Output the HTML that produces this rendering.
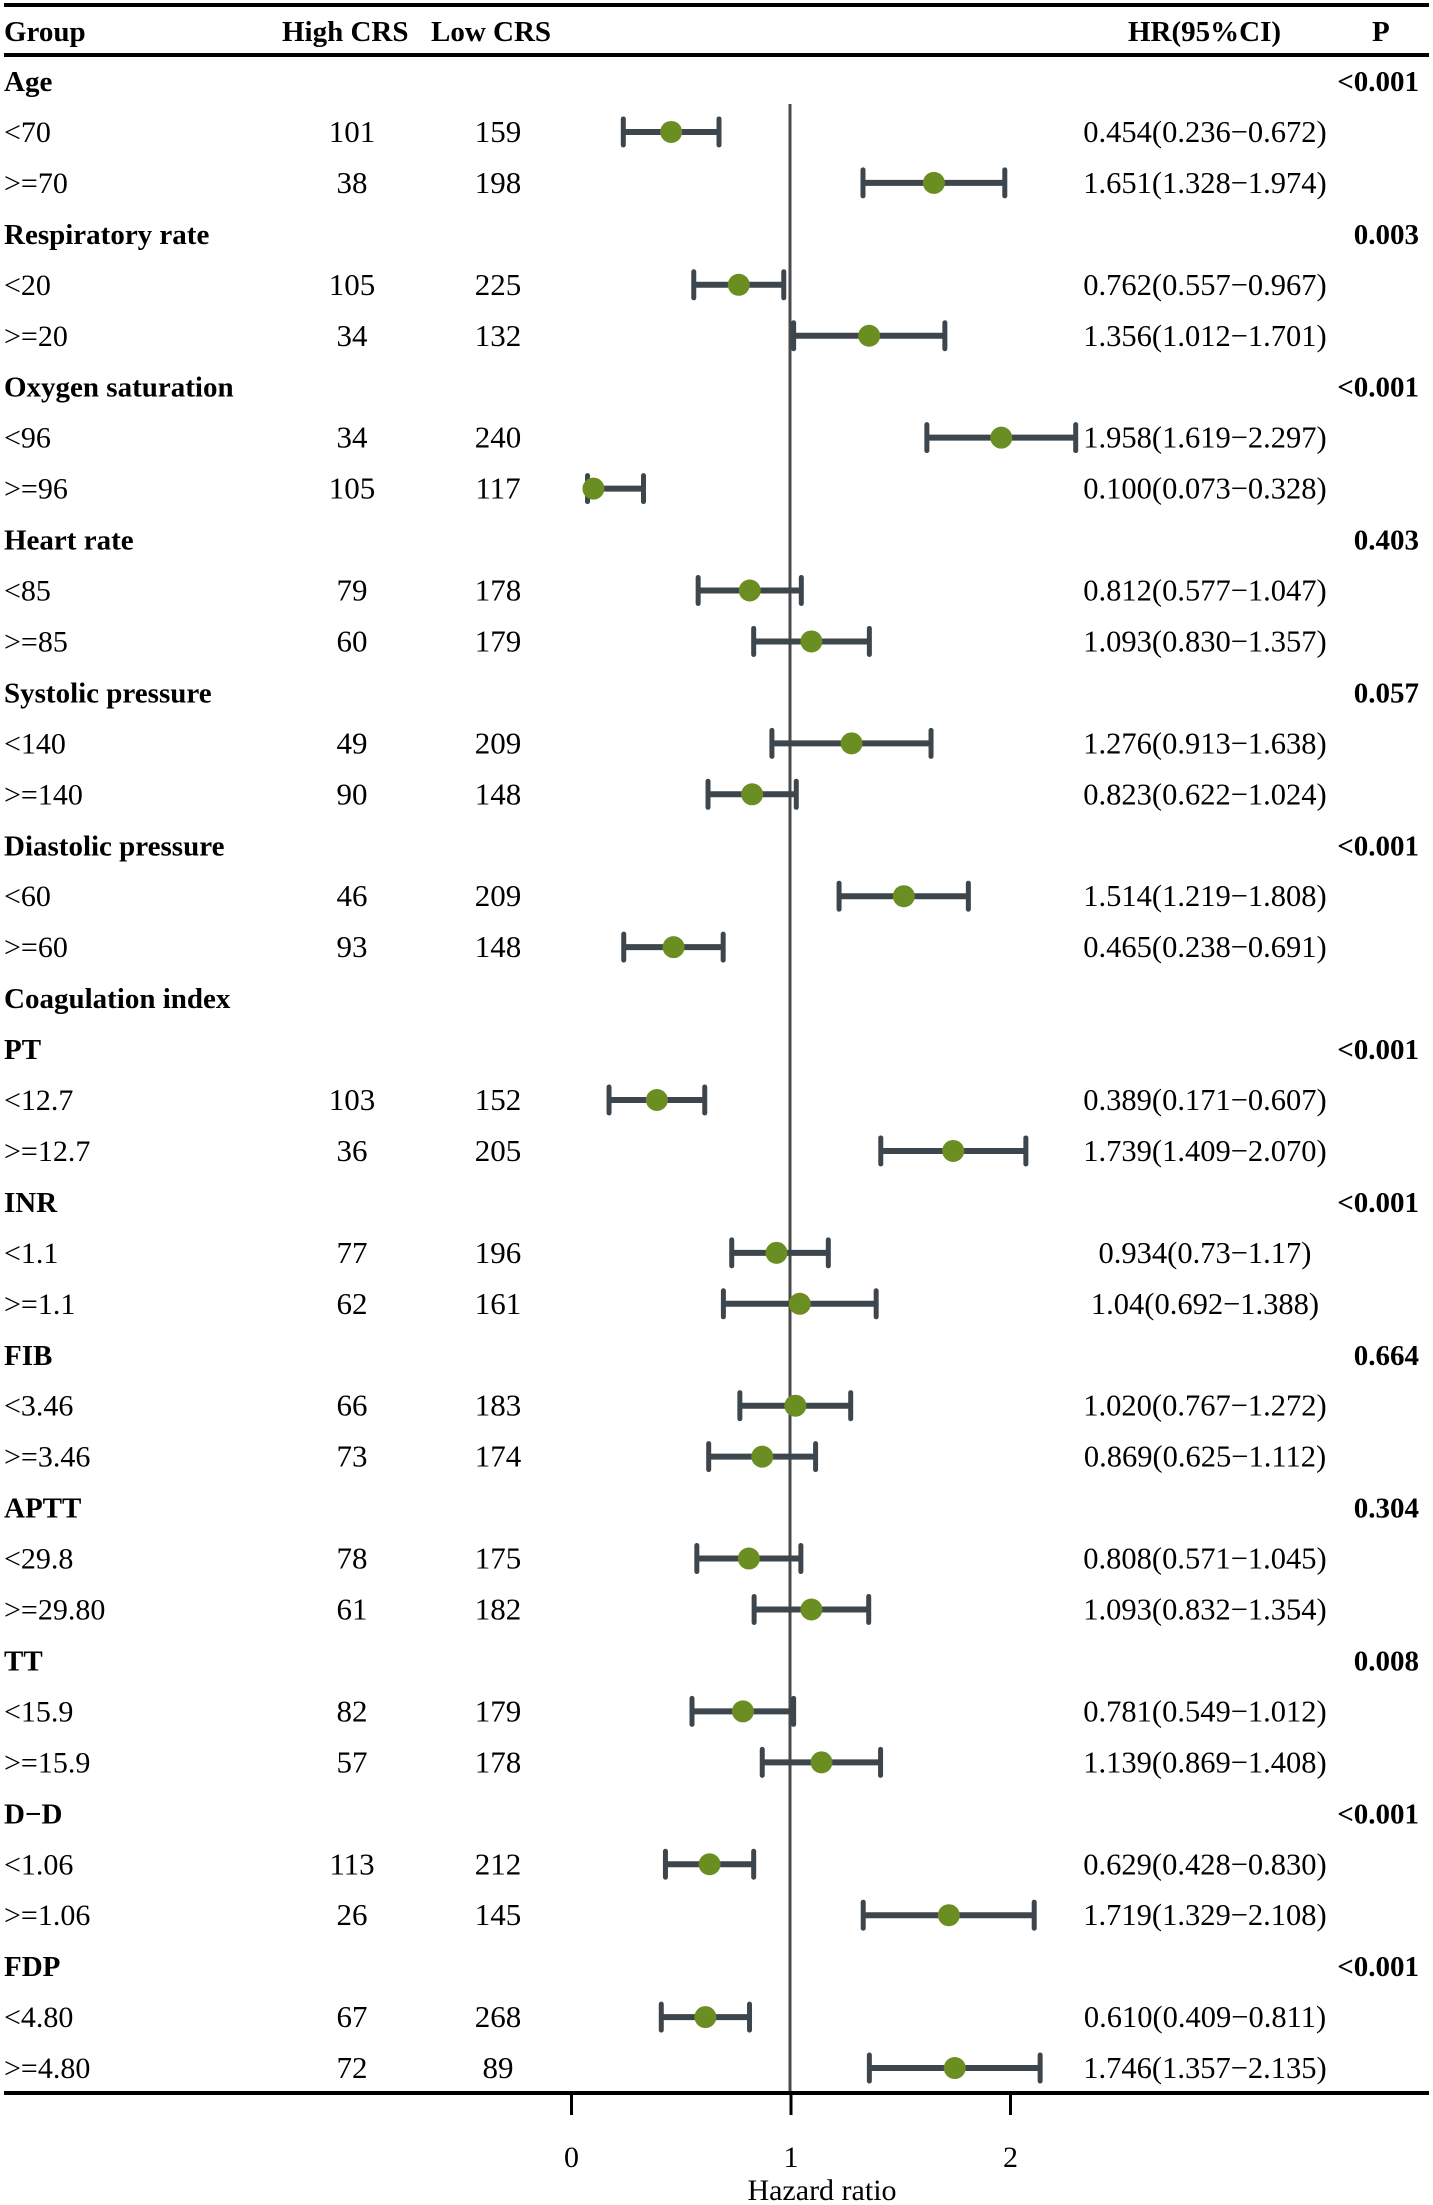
<!DOCTYPE html>
<html><head><meta charset="utf-8"><style>
html,body{margin:0;padding:0;background:#fff;}
svg{display:block;font-family:"Liberation Serif",serif;}
</style></head><body>
<svg id="chart" width="1433" height="2205" viewBox="0 0 1433 2205" xmlns="http://www.w3.org/2000/svg">
<line x1="4" y1="5" x2="1429" y2="5" stroke="#000" stroke-width="4"/>
<line x1="4" y1="55" x2="1429" y2="55" stroke="#000" stroke-width="4"/>
<g font-weight="bold" font-size="29">
<text x="4" y="41">Group</text>
<text x="282" y="41">High CRS</text>
<text x="431" y="41">Low CRS</text>
<text x="1128" y="41">HR(95%CI)</text>
<text x="1372" y="41">P</text>
</g>
<line x1="790" y1="104" x2="790" y2="2093" stroke="#4a4a4a" stroke-width="3"/>
<g id="rows"></g>
<line x1="4" y1="2093" x2="1429" y2="2093" stroke="#000" stroke-width="4"/>
<g id="axis"></g>
<text x="822" y="2200" font-size="30" text-anchor="middle">Hazard ratio</text>
</svg>
<script>
const labels=["Age","<70",">=70","Respiratory rate","<20",">=20","Oxygen saturation","<96",">=96","Heart rate","<85",">=85","Systolic pressure","<140",">=140","Diastolic pressure","<60",">=60","Coagulation index","PT","<12.7",">=12.7","INR","<1.1",">=1.1","FIB","<3.46",">=3.46","APTT","<29.8",">=29.80","TT","<15.9",">=15.9","D\u2212D","<1.06",">=1.06","FDP","<4.80",">=4.80"];
const isGroup=[1,0,0,1,0,0,1,0,0,1,0,0,1,0,0,1,0,0,1,1,0,0,1,0,0,1,0,0,1,0,0,1,0,0,1,0,0,1,0,0];
const pValues=["<0.001","","","0.003","","","<0.001","","","0.403","","","0.057","","","<0.001","","","","<0.001","","","<0.001","","","0.664","","","0.304","","","0.008","","","<0.001","","","<0.001","",""];
const highCRS=[null,101,38,null,105,34,null,34,105,null,79,60,null,49,90,null,46,93,null,null,103,36,null,77,62,null,66,73,null,78,61,null,82,57,null,113,26,null,67,72];
const lowCRS=[null,159,198,null,225,132,null,240,117,null,178,179,null,209,148,null,209,148,null,null,152,205,null,196,161,null,183,174,null,175,182,null,179,178,null,212,145,null,268,89];
const hr=[null,0.454,1.651,null,0.762,1.356,null,1.958,0.100,null,0.812,1.093,null,1.276,0.823,null,1.514,0.465,null,null,0.389,1.739,null,0.934,1.04,null,1.020,0.869,null,0.808,1.093,null,0.781,1.139,null,0.629,1.719,null,0.610,1.746];
const lower=[null,0.236,1.328,null,0.557,1.012,null,1.619,0.073,null,0.577,0.830,null,0.913,0.622,null,1.219,0.238,null,null,0.171,1.409,null,0.73,0.692,null,0.767,0.625,null,0.571,0.832,null,0.549,0.869,null,0.428,1.329,null,0.409,1.357];
const upper=[null,0.672,1.974,null,0.967,1.701,null,2.297,0.328,null,1.047,1.357,null,1.638,1.024,null,1.808,0.691,null,null,0.607,2.070,null,1.17,1.388,null,1.272,1.112,null,1.045,1.354,null,1.012,1.408,null,0.830,2.108,null,0.811,2.135];
const hrText=[null,"0.454(0.236\u22120.672)","1.651(1.328\u22121.974)",null,"0.762(0.557\u22120.967)","1.356(1.012\u22121.701)",null,"1.958(1.619\u22122.297)","0.100(0.073\u22120.328)",null,"0.812(0.577\u22121.047)","1.093(0.830\u22121.357)",null,"1.276(0.913\u22121.638)","0.823(0.622\u22121.024)",null,"1.514(1.219\u22121.808)","0.465(0.238\u22120.691)",null,null,"0.389(0.171\u22120.607)","1.739(1.409\u22122.070)",null,"0.934(0.73\u22121.17)","1.04(0.692\u22121.388)",null,"1.020(0.767\u22121.272)","0.869(0.625\u22121.112)",null,"0.808(0.571\u22121.045)","1.093(0.832\u22121.354)",null,"0.781(0.549\u22121.012)","1.139(0.869\u22121.408)",null,"0.629(0.428\u22120.830)","1.719(1.329\u22122.108)",null,"0.610(0.409\u22120.811)","1.746(1.357\u22122.135)"];
const ticks=[0,1,2];

const NS="http://www.w3.org/2000/svg";
const xs=v=>571.5+v*219.5;
const ys=i=>81+i*50.95;
function mk(tag,attrs,parent,txt){const e=document.createElementNS(NS,tag);for(const k in attrs)e.setAttribute(k,attrs[k]);if(txt!=null)e.textContent=txt;parent.appendChild(e);return e;}
const rows=document.getElementById('rows');
labels.forEach((lab,i)=>{
  const y=ys(i), ty=y+10;
  const t=mk('text',{x:4,y:ty,'font-size':isGroup[i]?29:30,'font-weight':isGroup[i]?'bold':'normal'},rows,lab);
  
  
  if(pValues[i]){const p=mk('text',{x:1419,y:ty,'font-size':29,'font-weight':'bold','text-anchor':'end'},rows,pValues[i]);
    
    }
  if(highCRS[i]!=null){const a=mk('text',{x:352,y:ty,'font-size':31,'text-anchor':'middle'},rows,String(highCRS[i]));
    
    
    const b=mk('text',{x:498,y:ty,'font-size':31,'text-anchor':'middle'},rows,String(lowCRS[i]));
    
    }
  if(hr[i]!=null){
    const h=mk('text',{x:1205,y:ty,'font-size':30.5,'text-anchor':'middle'},rows,hrText[i]);
    
    
    const g=mk('g',{},rows);
    
    
    mk('line',{x1:xs(lower[i]),y1:y,x2:xs(upper[i]),y2:y,stroke:'#3d464d','stroke-width':6},g);
    mk('line',{x1:xs(lower[i]),y1:y-13,x2:xs(lower[i]),y2:y+13,stroke:'#3d464d','stroke-width':5,'stroke-linecap':'round'},g);
    mk('line',{x1:xs(upper[i]),y1:y-13,x2:xs(upper[i]),y2:y+13,stroke:'#3d464d','stroke-width':5,'stroke-linecap':'round'},g);
    const c=mk('circle',{cx:xs(hr[i]),cy:y,r:11,fill:'#6b8e23'},rows);
    
    
  }
});
const ax=document.getElementById('axis');
ticks.forEach(t=>{
  const l=mk('line',{x1:xs(t),y1:2093,x2:xs(t),y2:2115,stroke:'#000','stroke-width':3},ax);
  
  
  const tx=mk('text',{x:xs(t),y:2167,'font-size':30,'text-anchor':'middle'},ax,String(t));
  
  
});
</script>
</body></html>
